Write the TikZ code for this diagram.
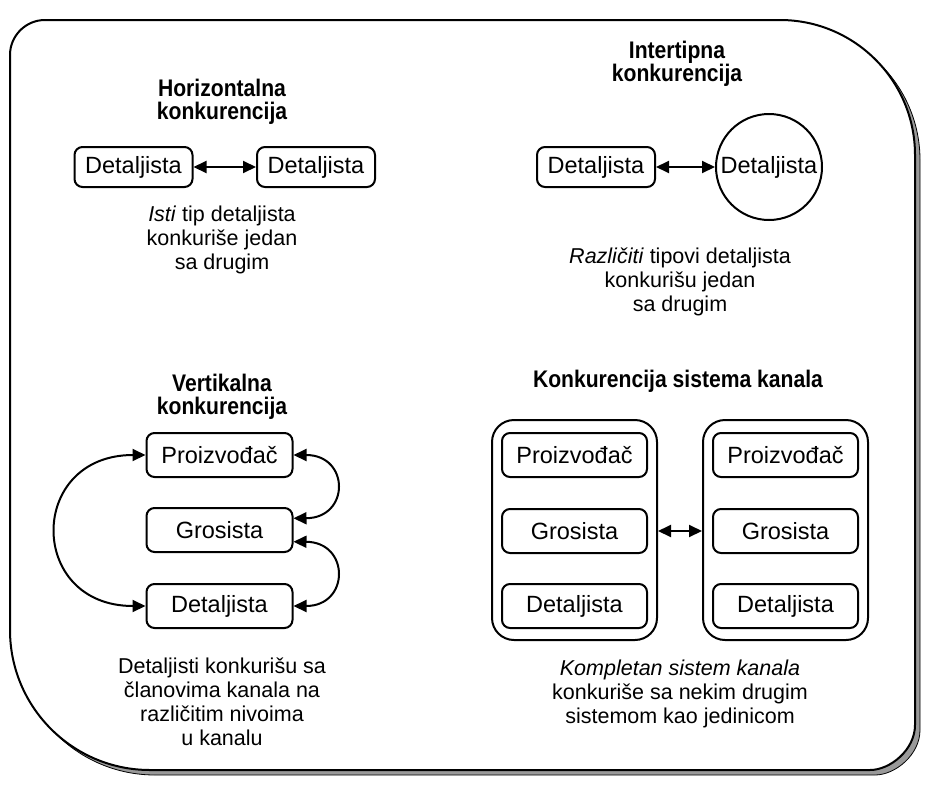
\documentclass[tikz,border=0pt]{standalone}
\usepackage{fontspec}
\setmainfont{Liberation Sans}
\newfontfamily\titlefont[FakeStretch=0.88]{Liberation Sans}
\usetikzlibrary{arrows.meta,shapes.geometric}

\tikzset{
  x=1pt, y=-1pt,
  frameline/.style={line width=2pt, line join=round},
  shadowline/.style={fill=black!40, draw=black, line width=0.8pt},
  box/.style={draw, rounded corners=8pt, line width=2pt, inner sep=0pt,
    minimum width=118pt, minimum height=40pt,
    font=\fontsize{23.5}{27}\selectfont},
  rowbox/.style={box, minimum width=146pt, minimum height=44pt},
  container/.style={draw, rounded corners=22pt, line width=2pt,
    minimum width=165pt, minimum height=220pt, inner sep=0pt},
  ring/.style={draw, circle, line width=2pt, minimum size=106pt, inner sep=0pt,
    font=\fontsize{23.5}{27}\selectfont},
  heading/.style={font=\titlefont\bfseries\fontsize{24}{23}\selectfont, align=center},
  caption/.style={font=\fontsize{21.5}{24}\selectfont, align=center},
  arr/.style={{Triangle[length=13pt,width=12pt]}-{Triangle[length=13pt,width=12pt]},
    line width=2pt},
}

\begin{document}
\begin{tikzpicture}
\useasboundingbox (0,0) rectangle (926,787);

% drop shadow of the outer frame
\path[shadowline, shift={(5pt,-5pt)}]
  (45,20) -- (780,20)
  .. controls (854.5,20) and (915,80.5) .. (915,155)
  -- (915,725)
  .. controls (915,749.8) and (890.2,770) .. (870,770)
  -- (150,770)
  .. controls (72.7,770) and (10,707.3) .. (10,630)
  -- (10,55)
  .. controls (10,35.7) and (25.7,20) .. cycle;

% outer frame
\path[frameline, draw=black, fill=white]
  (45,20) -- (780,20)
  .. controls (854.5,20) and (915,80.5) .. (915,155)
  -- (915,725)
  .. controls (915,749.8) and (890.2,770) .. (870,770)
  -- (150,770)
  .. controls (72.7,770) and (10,707.3) .. (10,630)
  -- (10,55)
  .. controls (10,35.7) and (25.7,20) .. cycle;

% horizontal competition
\node[heading] (htitle) at (222,102) {Horizontalna\\konkurencija};
\node[box] (h1) at (133.5,167) {Detaljista};
\node[box] (h2) at (316,167) {Detaljista};
\draw[arr] (h1) -- (h2);
\node[caption] (htext) at (222,240) {\textit{Isti} tip detaljista\\konkuriše jedan\\sa drugim};

% intertype competition
\node[heading] (ititle) at (677,64) {Intertipna\\konkurencija};
\node[box] (i1) at (596,167) {Detaljista};
\node[ring] (i2) at (769,167) {Detaljista};
\draw[arr] (i1) -- (i2);
\node[caption] (itext) at (680,282) {\textit{Različiti} tipovi detaljista\\konkurišu jedan\\sa drugim};

% vertical competition
\node[heading] (vtitle) at (222,397) {Vertikalna\\konkurencija};
\node[rowbox] (vp) at (219.5,455) {Proizvođač};
\node[rowbox] (vg) at (219.5,530) {Grosista};
\node[rowbox] (vd) at (219.5,606) {Detaljista};
\draw[arr] (vp.west) .. controls (27,455) and (27,606) .. (vd.west);
\draw[arr] (vp.east) .. controls (350,455) and (350,518) .. (vg.9);
\draw[arr] (vg.-9) .. controls (350,542) and (350,606) .. (vd.east);
\node[caption] (vtext) at (222,702) {Detaljisti konkurišu sa\\članovima kanala na\\različitim nivoima\\u kanalu};

% channel system competition
\node[heading] (stitle) at (678,381) {Konkurencija sistema kanala};
\node[container] (sa) at (574.5,530) {};
\node[container] (sb) at (785.5,530) {};
\node[rowbox, minimum width=145pt] (sap) at (574.5,455) {Proizvođač};
\node[rowbox, minimum width=145pt] (sag) at (574.5,531) {Grosista};
\node[rowbox, minimum width=145pt] (sad) at (574.5,606) {Detaljista};
\node[rowbox, minimum width=145pt] (sbp) at (785.5,455) {Proizvođač};
\node[rowbox, minimum width=145pt] (sbg) at (785.5,531) {Grosista};
\node[rowbox, minimum width=145pt] (sbd) at (785.5,606) {Detaljista};
\draw[arr] (sa.east |- sag) -- (sb.west |- sbg);
\node[caption] (stext) at (680,694) {\textit{Kompletan sistem kanala}\\konkuriše sa nekim drugim\\sistemom kao jedinicom};
\end{tikzpicture}
\end{document}
